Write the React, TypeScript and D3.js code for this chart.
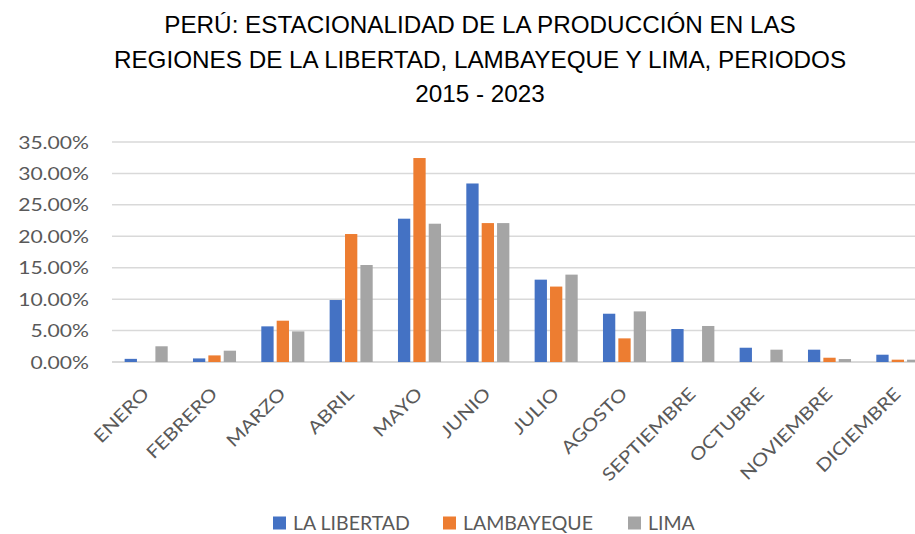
import React, { useEffect, useRef } from 'react';
import * as d3 from 'd3';

const months = ['ENERO', 'FEBRERO', 'MARZO', 'ABRIL', 'MAYO', 'JUNIO', 'JULIO', 'AGOSTO', 'SEPTIEMBRE', 'OCTUBRE', 'NOVIEMBRE', 'DICIEMBRE'];
const seriesNames = ['LA LIBERTAD', 'LAMBAYEQUE', 'LIMA'];
const laLibertad = [0.5, 0.57, 5.67, 9.86, 22.8, 28.4, 13.1, 7.68, 5.25, 2.27, 1.96, 1.16];
const lambayeque = [0, 1.05, 6.57, 20.36, 32.45, 22.1, 12.0, 3.76, 0, 0, 0.68, 0.37];
const lima = [2.5, 1.8, 4.87, 15.43, 22.0, 22.1, 13.9, 8.05, 5.73, 1.96, 0.47, 0.37];
const yTicks = [0, 5, 10, 15, 20, 25, 30, 35];
const colors = ['#4472c4', '#ed7d31', '#a5a5a5'];
const titleLines = ['PERÚ: ESTACIONALIDAD DE LA PRODUCCIÓN EN LAS', 'REGIONES DE LA LIBERTAD, LAMBAYEQUE Y LIMA, PERIODOS', '2015 - 2023'];

const App = () => {
  const svgRef = useRef<SVGSVGElement>(null);

  useEffect(() => {
    const svg = d3.select(svgRef.current);
    svg.selectAll('*').remove();
    const width = 915;
    const height = 534;
    // plot runs past the right edge, the source image is cropped there
    const left = 112, right = 932, top = 142, bottom = 362;
    const font = 'Lato, "Open Sans", sans-serif';

    svg.append('rect').attr('width', width).attr('height', height).attr('fill', '#fff');

    // title
    svg.append('g').selectAll('text')
      .data(titleLines)
      .enter()
      .append('text')
      .attr('transform', (d, i) => `translate(480,${33 + i * 34.5}) scale(1.055,1)`)
      .attr('text-anchor', 'middle')
      .style('font-family', '"Liberation Sans", Arial, sans-serif')
      .style('font-size', '23px')
      .attr('fill', '#000')
      .text(d => d);

    const x = d3.scaleBand().domain(months).range([left, right]).paddingInner(0.37).paddingOuter(0.185);
    const xs = d3.scaleBand().domain(seriesNames).range([0, x.bandwidth()]).paddingInner(0.2);
    const y = d3.scaleLinear().domain([0, 35]).range([bottom, top]);

    // grid
    svg.append('g').selectAll('line')
      .data(yTicks)
      .enter()
      .append('line')
      .attr('x1', left)
      .attr('x2', width)
      .attr('y1', d => y(d))
      .attr('y2', d => y(d))
      .attr('stroke', '#d9d9d9')
      .attr('stroke-width', d => (d === 0 ? 2 : 1.5));

    svg.append('g').selectAll('text')
      .data(yTicks)
      .enter()
      .append('text')
      .attr('transform', d => `translate(89,${y(d) + 6.5}) scale(1.2,1)`)
      .attr('text-anchor', 'end')
      .style('font-family', font)
      .style('font-size', '17.6px')
      .attr('fill', '#595959')
      .text(d => d.toFixed(2) + '%');

    const allSeries = [laLibertad, lambayeque, lima];
    allSeries.forEach((vals, si) => {
      svg.append('g').selectAll('rect')
        .data(vals)
        .enter()
        .append('rect')
        .attr('x', (d, i) => x(months[i])! + xs(seriesNames[si])!)
        .attr('width', xs.bandwidth())
        .attr('y', d => y(d))
        .attr('height', d => bottom - y(d))
        .attr('fill', colors[si]);
    });

    // x labels
    svg.append('g').selectAll('text')
      .data(months)
      .enter()
      .append('text')
      .attr('transform', d => `translate(${x(d)! + x.bandwidth() / 2 + 4},${395}) rotate(-45) scale(1.18,1)`)
      .attr('text-anchor', 'end')
      .style('font-family', font)
      .style('font-size', '17.6px')
      .attr('fill', '#595959')
      .text(d => d);

    // legend
    const legendX = [273, 443, 628];
    const lg = svg.append('g');
    seriesNames.forEach((name, i) => {
      lg.append('rect')
        .attr('x', legendX[i])
        .attr('y', 516.5)
        .attr('width', 13)
        .attr('height', 13)
        .attr('fill', colors[i]);
      lg.append('text')
        .attr('x', legendX[i] + 20)
        .attr('y', 529.5)
        .style('font-family', font)
        .style('font-size', '19.5px')
        .attr('fill', '#595959')
        .text(name);
    });
  }, []);

  return <svg ref={svgRef} width={915} height={534} style={{ display: 'block', position: 'absolute', left: 0, top: 0 }} />;
};

export default App;
